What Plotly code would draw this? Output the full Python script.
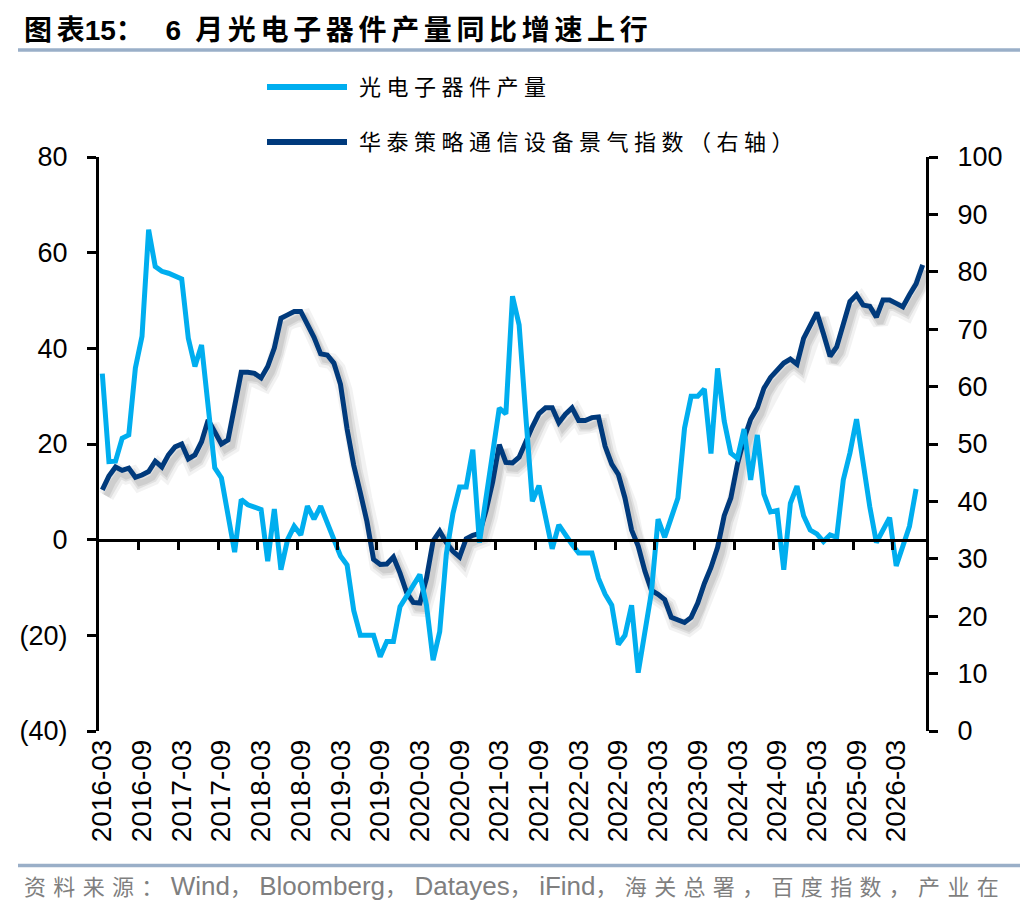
import pandas as pd
import plotly.graph_objects as go

# monthly categories, 2016-03 .. 2026-07
months = pd.date_range("2016-03-01", periods=125, freq="MS").strftime("%Y-%m").tolist()

# 光电子器件产量 同比 (%), left axis
opto_yoy = [
    34.7, 16.3, 16.4, 21.2, 21.9, 35.9, 42.5, 64.8, 57.1, 56.1,
    55.7, 55.0, 54.5, 42.1, 36.2, 40.7, 28.5, 15.0, 12.9, 5.6,
    -2.6, 8.4, 7.3, 6.8, 6.3, -4.5, 6.4, -6.3, 0.0, 2.8,
    1.0, 7.0, 4.3, 7.0, 3.6, -0.1, -3.4, -5.3, -14.8, -20.0,
    -20.0, -20.0, -24.5, -21.3, -21.3, -14.0, -11.8, -9.5, -7.3, -13.7,
    -25.2, -19.2, -3.0, 5.5, 11.0, 11.0, 18.8, -0.6, 8.0, 18.1,
    27.5, 26.3, 50.9, 44.9, 26.0, 8.0, 11.3, 4.6, -1.9, 3.1,
    0.9, -1.0, -2.8, -2.8, -2.8, -8.1, -11.4, -13.7, -21.9, -20.0,
    -13.7, -27.8, -19.2, -11.0, 4.3, 0.5, 4.6, 8.7, 23.3, 30.0,
    30.0, 31.5, 18.0, 35.8, 24.8, 18.1, 17.0, 23.1, 12.5, 21.9,
    9.5, 5.8, 6.1, -6.3, 7.6, 11.2, 5.0, 2.0, 1.2, -0.4,
    1.0, 0.5, 12.5, 18.1, 25.2, 16.0, 6.9, -0.6, 2.0, 4.6,
    -5.5, -1.3, 2.8, 10.6,
]

# 华泰策略通信设备景气指数, right axis
telecom_index = [
    42.0, 44.4, 46.0, 45.4, 45.8, 44.2, 44.6, 45.2, 47.0, 46.0,
    48.1, 49.5, 50.0, 47.4, 48.1, 50.4, 54.2, 52.2, 50.0, 50.7,
    56.5, 62.5, 62.5, 62.3, 61.5, 63.5, 66.7, 71.9, 72.5, 73.1,
    73.1, 70.8, 68.6, 65.7, 65.5, 64.1, 60.4, 52.6, 46.3, 41.5,
    36.5, 29.9, 29.0, 29.1, 30.3, 27.5, 24.1, 22.4, 22.3, 26.6,
    33.1, 34.8, 32.8, 31.3, 30.3, 33.5, 34.1, 34.4, 38.4, 43.4,
    49.9, 46.8, 46.7, 47.7, 50.6, 53.0, 55.3, 56.3, 56.3, 53.7,
    55.2, 56.3, 54.1, 54.1, 54.6, 54.7, 49.6, 46.5, 44.7, 40.6,
    35.0, 32.2, 27.9, 24.5, 23.8, 22.9, 19.8, 19.3, 18.9, 19.8,
    22.3, 25.7, 28.5, 32.0, 37.5, 40.6, 46.5, 50.9, 54.3, 56.3,
    59.7, 61.6, 63.0, 64.1, 64.8, 63.9, 68.4, 70.6, 72.9, 69.2,
    65.3, 66.9, 70.7, 74.8, 76.0, 74.2, 74.0, 72.1, 75.1, 75.1,
    74.5, 73.9, 76.0, 77.9, 81.2,
]

left_ticks = [-40, -20, 0, 20, 40, 60, 80]
left_text = ["(40)", "(20)", "0", "20", "40", "60", "80"]
right_ticks = list(range(0, 101, 10))

LIGHT = "#00AEEF"
DARK = "#003A7C"
RULE = "#9AAFC8"
FONT = "Arial, 'Liberation Sans', 'Noto Sans CJK SC', sans-serif"

# page is drawn with an 8px body margin, so work in page pixels and shift
OFF = 8
W, H = 1020, 900
L, R, T, B = 99 - OFF, W - (926 - OFF), 157 - OFF, H - (731.5 - OFF)


def px(x):
    return (x - OFF - L) / (W - L - R)


def py(y):
    return (H - B - (y - OFF)) / (H - T - B)


def spaced(s, sep="\u2005", latin_size=None):
    # open up CJK characters like the original; keep latin words tight
    out = ""
    for ch in s:
        if ord(ch) > 0x2E80:
            out += ch + sep
        elif latin_size:
            out += f"<span style='font-size:{latin_size}px'>{ch}</span>"
        else:
            out += ch
    return out.rstrip(sep)


n = len(months)
idx = list(range(n))
label_pos = idx[::6]
label_text = months[::6]
bounds = [i - 0.5 for i in idx[6::6]]

# shadow offset (in axis units)
sx = 4 / ((W - L - R) / n)
sy = 6 / ((H - T - B) / 100)

fig = go.Figure()

# soft shadow under the index line
for w, a in [(16, 0.05), (10, 0.07), (6, 0.08)]:
    fig.add_trace(go.Scatter(x=idx[:len(telecom_index)], y=telecom_index, xaxis="x", yaxis="y",
                             mode="lines", line=dict(color=f"rgba(0,0,0,{a})", width=w),
                             hoverinfo="skip", showlegend=False))

fig.add_trace(go.Scatter(x=idx[:len(telecom_index)], y=telecom_index, xaxis="x2", yaxis="y3",
                         mode="lines", line=dict(color=DARK, width=5),
                         name="华泰策略通信设备景气指数（右轴）"))
fig.add_trace(go.Scatter(x=idx[:len(opto_yoy)], y=opto_yoy, xaxis="x3", yaxis="y2",
                         mode="lines", line=dict(color=LIGHT, width=5),
                         name="光电子器件产量"))

xr = [-0.5, n - 0.5]
fig.update_layout(
    width=W, height=H,
    margin=dict(l=L, r=R, t=T, b=B, pad=0, autoexpand=False),
    paper_bgcolor="white", plot_bgcolor="white",
    showlegend=False,
    font=dict(family=FONT, color="black"),
    xaxis=dict(domain=[0, 1], range=[xr[0] - sx, xr[1] - sx], visible=False),
    yaxis=dict(domain=[0, 1], range=[sy, 100 + sy], visible=False),
    xaxis2=dict(overlaying="x", anchor="y2", range=xr, tickmode="array",
                tickvals=label_pos, ticktext=label_text, tickangle=-90,
                ticks="", showline=False, showgrid=False, zeroline=False,
                tickfont=dict(size=28, color="black"), ticklabelstandoff=2),
    xaxis3=dict(overlaying="x", anchor="free", position=1 / 3, range=xr,
                tickmode="array", tickvals=bounds, ticks="outside", ticklen=8,
                tickwidth=2.5, tickcolor="black", showticklabels=False,
                showline=True, linecolor="black", linewidth=3,
                showgrid=False, zeroline=False),
    yaxis2=dict(overlaying="y", anchor="x2", side="left", range=[-40, 80],
                tickmode="array", tickvals=left_ticks, ticktext=left_text,
                ticks="outside", ticklen=9, tickwidth=2.5, tickcolor="black",
                showline=True, linecolor="black", linewidth=3,
                showgrid=False, zeroline=False,
                tickfont=dict(size=27, color="black"), ticklabelstandoff=14),
    yaxis3=dict(overlaying="y", anchor="x2", side="right", range=[0, 100],
                tickmode="array", tickvals=right_ticks,
                ticks="outside", ticklen=9, tickwidth=2.5, tickcolor="black",
                showline=True, linecolor="black", linewidth=3,
                showgrid=False, zeroline=False,
                tickfont=dict(size=27, color="black"), ticklabelstandoff=14),
)

shapes = [
    dict(type="line", xref="paper", yref="paper", x0=px(18), x1=px(1020),
         y0=py(50), y1=py(50), line=dict(color=RULE, width=3.5)),
    dict(type="line", xref="paper", yref="paper", x0=px(18), x1=px(1020),
         y0=py(866), y1=py(866), line=dict(color=RULE, width=3.5)),
    dict(type="line", xref="paper", yref="paper", x0=px(267), x1=px(347),
         y0=py(87), y1=py(87), line=dict(color=LIGHT, width=6)),
    dict(type="line", xref="paper", yref="paper", x0=px(267), x1=px(347),
         y0=py(142), y1=py(142), line=dict(color=DARK, width=6)),
]

annotations = [
    dict(text=spaced("图表", "\u2006") + "15：\u2002 6\u2002" + spaced("月光电子器件产量同比增速上行", "\u2006"),
         x=px(22), y=py(30), xref="paper", yref="paper", xanchor="left", yanchor="middle",
         showarrow=False, font=dict(size=28, color="black", weight="bold")),
    dict(text=spaced("光电子器件产量"), x=px(357), y=py(87), xref="paper", yref="paper",
         xanchor="left", yanchor="middle", showarrow=False, font=dict(size=22, color="black")),
    dict(text=spaced("华泰策略通信设备景气指数（右轴）"), x=px(357), y=py(142), xref="paper",
         yref="paper", xanchor="left", yanchor="middle", showarrow=False,
         font=dict(size=22, color="black")),
    dict(text=spaced("资料来源：Wind，Bloomberg，Datayes，iFind，海关总署，百度指数，产业在",
                     "\u2006\u2006", latin_size=26),
         x=px(22), y=py(887), xref="paper", yref="paper", xanchor="left", yanchor="middle",
         showarrow=False, font=dict(size=22, color="#7F7F7F")),
]

fig.update_layout(shapes=shapes, annotations=annotations)

fig.write_html("out.html")
